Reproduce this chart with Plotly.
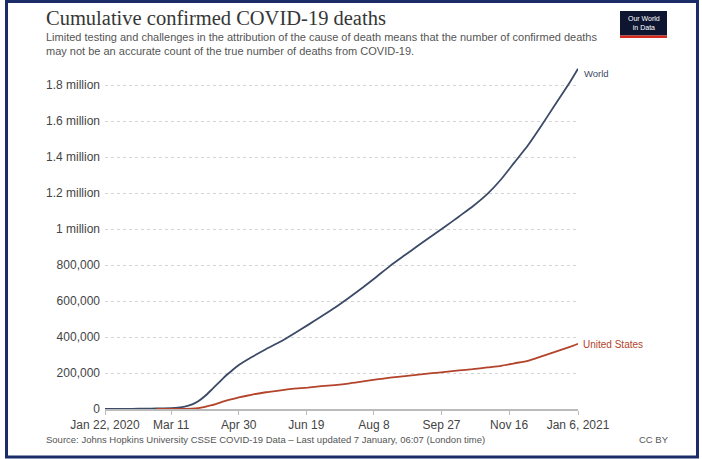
import plotly.graph_objects as go

# ---- data ----
dates = ["2020-01-22", "2020-02-01", "2020-02-11", "2020-02-21", "2020-02-29", "2020-03-11",
         "2020-03-16", "2020-03-21", "2020-03-26", "2020-03-31", "2020-04-05", "2020-04-10",
         "2020-04-15", "2020-04-20", "2020-04-25", "2020-04-30", "2020-05-10", "2020-05-20",
         "2020-05-31", "2020-06-10", "2020-06-20", "2020-06-30", "2020-07-10", "2020-07-20",
         "2020-07-31", "2020-08-10", "2020-08-20", "2020-08-31", "2020-09-10", "2020-09-20",
         "2020-09-30", "2020-10-10", "2020-10-20", "2020-10-31", "2020-11-10", "2020-11-20",
         "2020-11-30", "2020-12-10", "2020-12-20", "2020-12-31", "2021-01-06"]

world_deaths = [17, 259, 1100, 2250, 3000, 4600,
                7200, 13000, 24000, 43000, 72000, 108000,
                145000, 182000, 214000, 244000, 290000, 332000,
                375000, 420000, 466000, 514000, 562000, 615000,
                676000, 735000, 795000, 855000, 910000, 962000,
                1015000, 1070000, 1125000, 1195000, 1275000, 1370000,
                1465000, 1575000, 1690000, 1815000, 1890000]

us_deaths = [None, None, None, None, 1, 30,
             90, 350, 1300, 4800, 12000, 21000,
             33000, 45000, 55000, 64000, 80000, 93000,
             104000, 113000, 119000, 127000, 133000, 141000,
             153000, 164000, 174000, 183000, 191000, 199000,
             206000, 214000, 221000, 231000, 240000, 254000,
             268000, 292000, 317000, 345000, 362000]

x_tick_dates = ["2020-01-22", "2020-03-11", "2020-04-30", "2020-06-19",
                "2020-08-08", "2020-09-27", "2020-11-16", "2021-01-06"]
x_tick_labels = ["Jan 22, 2020", "Mar 11", "Apr 30", "Jun 19",
                 "Aug 8", "Sep 27", "Nov 16", "Jan 6, 2021"]

y_tick_values = [0, 200000, 400000, 600000, 800000, 1000000,
                 1200000, 1400000, 1600000, 1800000]
y_tick_labels = ["0", "200,000", "400,000", "600,000", "800,000", "1 million",
                 "1.2 million", "1.4 million", "1.6 million", "1.8 million"]

series_names = ["World", "United States"]

# ---- layout geometry (pixels) ----
W, H = 702, 459
L, R, T, B = 105, 124, 67, 50
PW, PH = W - L - R, H - T - B


def px(x):
    return (x - L) / PW


def py(y):
    return (H - B - y) / PH


WORLD_C = "#3b4a66"
US_C = "#b3432a"
FONT = "Liberation Sans, Arial, sans-serif"

fig = go.Figure()
fig.add_trace(go.Scatter(x=dates, y=world_deaths, mode="lines", name=series_names[0],
                         line=dict(color=WORLD_C, width=1.8, shape="spline", smoothing=0.5),
                         hoverinfo="x+y"))
fig.add_trace(go.Scatter(x=dates, y=us_deaths, mode="lines", name=series_names[1],
                         line=dict(color=US_C, width=1.8, shape="spline", smoothing=0.5),
                         hoverinfo="x+y"))


def paper_note(text, x, y, size, color="#555555", xanchor="left", family=FONT):
    return dict(text=text, xref="paper", yref="paper", x=px(x), y=py(y),
                xanchor=xanchor, yanchor="middle", showarrow=False,
                font=dict(family=family, size=size, color=color))


annotations = [
    paper_note("Cumulative confirmed COVID-19 deaths", 44, 18, 20.5, "#363636",
               family="Liberation Serif, Times New Roman, serif"),
    paper_note("Limited testing and challenges in the attribution of the cause of death means that the number of confirmed deaths",
               44, 37, 11),
    paper_note("may not be an accurate count of the true number of deaths from COVID-19.", 44, 51, 11),
    paper_note("Source: Johns Hopkins University CSSE COVID-19 Data – Last updated 7 January, 06:07 (London time)",
               44, 440, 9.5),
    paper_note("CC BY", 671, 440, 9.5, xanchor="right"),
    paper_note("Our World<br>in Data", 643.5, 23, 7, "#ffffff", xanchor="center"),
    dict(text=series_names[0], xref="x", yref="y", x=dates[-1], y=world_deaths[-1],
         xanchor="left", yanchor="middle", xshift=4, yshift=-5, showarrow=False,
         font=dict(family=FONT, size=9.5, color=WORLD_C)),
    dict(text=series_names[1], xref="x", yref="y", x=dates[-1], y=us_deaths[-1],
         xanchor="left", yanchor="middle", xshift=3, yshift=-1, showarrow=False,
         font=dict(family=FONT, size=10, color=US_C)),
]

shapes = [
    # outer frame
    dict(type="rect", xref="paper", yref="paper", x0=px(6.5), x1=px(697.5), y0=py(1.5), y1=py(457),
         line=dict(color="#1b2c68", width=3), fillcolor="rgba(0,0,0,0)", layer="below"),
    # logo
    dict(type="rect", xref="paper", yref="paper", x0=px(620), x1=px(667), y0=py(11), y1=py(35.5),
         line=dict(width=0), fillcolor="#0d1530"),
    dict(type="rect", xref="paper", yref="paper", x0=px(620), x1=px(667), y0=py(35.5), y1=py(38),
         line=dict(width=0), fillcolor="#d42a1e"),
]

fig.update_layout(
    width=W, height=H, autosize=False,
    margin=dict(l=L, r=R, t=T, b=B),
    paper_bgcolor="white", plot_bgcolor="white",
    showlegend=False,
    annotations=annotations,
    shapes=shapes,
    font=dict(family=FONT, color="#555555"),
)

fig.update_xaxes(
    type="date", range=["2020-01-22", "2021-01-06"],
    tickvals=x_tick_dates, ticktext=x_tick_labels,
    tickfont=dict(family=FONT, size=12, color="#444444"),
    showgrid=False, zeroline=False,
    showline=True, linecolor="#bbbbbb", linewidth=1.5,
    ticks="outside", ticklen=4, tickcolor="#bbbbbb", tickwidth=1,
)

fig.update_yaxes(
    range=[0, 1900000],
    tickvals=y_tick_values, ticktext=y_tick_labels,
    tickfont=dict(family=FONT, size=12, color="#444444"),
    showgrid=True, gridcolor="#d4d4d4", gridwidth=1, griddash="dot",
    zeroline=False, showline=False, ticks="", ticklabelstandoff=4,
)

fig.write_html("out.html", config={"displayModeBar": False},
               post_script="document.body.style.margin='0';document.body.style.overflow='hidden';")
